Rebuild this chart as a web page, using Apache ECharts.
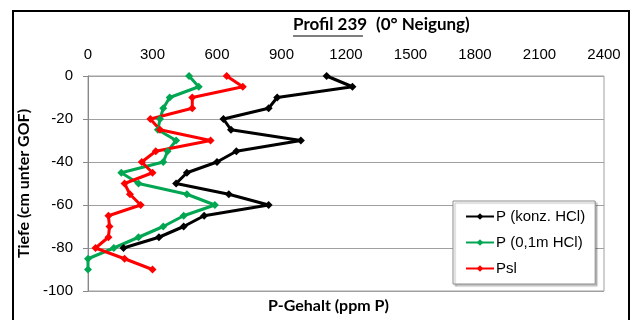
<!DOCTYPE html>
<html>
<head>
<meta charset="utf-8">
<script src="https://cdn.jsdelivr.net/npm/echarts@6/dist/echarts.min.js"></script>
<style>
  html, body { margin: 0; padding: 0; background: #fff; }
  #chart { width: 637px; height: 320px; }
</style>
</head>
<body>
<div id="chart"></div>
<script>
// Depth profile: P content vs. depth below ground surface
const xTicks = [0, 300, 600, 900, 1200, 1500, 1800, 2100, 2400];
const yTicks = [0, -20, -40, -60, -80, -100];

const depthKonz = [0, -5, -10, -15, -20, -25, -30, -35, -40, -45, -50, -55, -60, -65, -70, -75, -80];
const pKonzHCl  = [1110, 1230, 880, 840, 630, 665, 990, 690, 600, 460, 410, 655, 840, 540, 445, 330, 165];

const depthShort = [0, -5, -10, -15, -20, -25, -30, -35, -40, -45, -50, -55, -60, -65, -70, -75, -80, -85, -90];
const p01mHCl    = [470, 515, 380, 350, 335, 325, 410, 370, 350, 155, 235, 460, 590, 445, 350, 235, 120, 0, 0];
const pSl        = [645, 720, 485, 485, 290, 335, 570, 315, 250, 300, 170, 195, 245, 95, 100, 95, 35, 170, 300];

const seriesNames = ['P (konz. HCl)', 'P (0,1m HCl)', 'Psl'];
const seriesColors = ['#000000', '#00a651', '#ff0000'];

const pairs = (vals, depths) => vals.map((v, i) => [v, depths[i]]);

const chart = echarts.init(document.getElementById('chart'), null, { renderer: 'canvas' });

const tickFont = { fontFamily: '"Liberation Sans", Arial, sans-serif', fontSize: 15, color: '#000' };
const boldFont = { fontFamily: 'Lato, Carlito, sans-serif', fontWeight: 'bold', fontSize: 16 };
const titleFont = { fontFamily: 'Lato, Carlito, sans-serif', fontWeight: 'bold', fontSize: 17 };

function makeSeries(name, data, color) {
  return {
    name: name,
    type: 'line',
    data: data,
    symbol: 'diamond',
    symbolSize: 8,
    showSymbol: true,
    animation: false,
    lineStyle: { color: color, width: 3 },
    itemStyle: { color: color },
    emphasis: { disabled: true }
  };
}

chart.setOption({
  animation: false,
  backgroundColor: '#fff',
  grid: { left: 88, top: 76, right: 33, bottom: 29, show: true, borderColor: '#a0a0a0', borderWidth: 1, containLabel: false },
  xAxis: {
    type: 'value',
    position: 'top',
    min: xTicks[0],
    max: xTicks[xTicks.length - 1],
    interval: xTicks[1] - xTicks[0],
    axisLine: { show: false },
    axisTick: { show: false },
    splitLine: { show: false },
    axisLabel: Object.assign({ margin: 14, formatter: v => String(v) }, tickFont)
  },
  yAxis: {
    type: 'value',
    min: yTicks[yTicks.length - 1],
    max: yTicks[0],
    interval: 20,
    axisLine: { show: true, lineStyle: { color: '#888', width: 1 } },
    axisTick: { show: true, inside: false, length: 5, lineStyle: { color: '#888' } },
    splitLine: { show: true, lineStyle: { color: '#a0a0a0', width: 1 } },
    axisLabel: Object.assign({ margin: 15, formatter: v => String(v) }, tickFont),
    name: 'Tiefe (cm unter GOF)',
    nameLocation: 'middle',
    nameGap: 51,
    nameRotate: 90,
    nameTextStyle: Object.assign({ color: '#000' }, boldFont)
  },
  legend: {
    orient: 'vertical',
    left: 453,
    top: 201,
    width: 130,
    itemWidth: 28,
    itemHeight: 8,
    itemGap: 11,
    padding: [8, 10, 8, 12],
    backgroundColor: '#fff',
    borderColor: '#8c8c8c',
    borderWidth: 1,
    shadowColor: 'rgba(0,0,0,0.25)',
    shadowOffsetX: 2,
    shadowOffsetY: 2,
    shadowBlur: 1,
    textStyle: { fontFamily: '"Liberation Sans", Arial, sans-serif', fontSize: 15, color: '#000', padding: [0, 0, 0, -3] },
    data: seriesNames
  },
  graphic: [
    { type: 'rect', shape: { x: 13, y: 11, width: 616, height: 330 }, style: { fill: 'none', stroke: '#000', lineWidth: 2 }, silent: true, z: 100 },
    { type: 'text', left: 293, top: 16, style: Object.assign({ text: 'Profil 239', fill: '#000' }, titleFont) },
    { type: 'text', left: 376, top: 16, style: Object.assign({ text: '(0° Neigung)', fill: '#000' }, titleFont) },
    { type: 'line', shape: { x1: 293, y1: 36, x2: 363, y2: 36 }, style: { stroke: '#000', lineWidth: 1.2 } },
    { type: 'text', left: 268, top: 298, style: Object.assign({ text: 'P-Gehalt (ppm P)', fill: '#000' }, boldFont) }
  ],
  series: [
    makeSeries(seriesNames[0], pairs(pKonzHCl, depthKonz), seriesColors[0]),
    makeSeries(seriesNames[1], pairs(p01mHCl, depthShort), seriesColors[1]),
    makeSeries(seriesNames[2], pairs(pSl, depthShort), seriesColors[2])
  ]
});
</script>
</body>
</html>
